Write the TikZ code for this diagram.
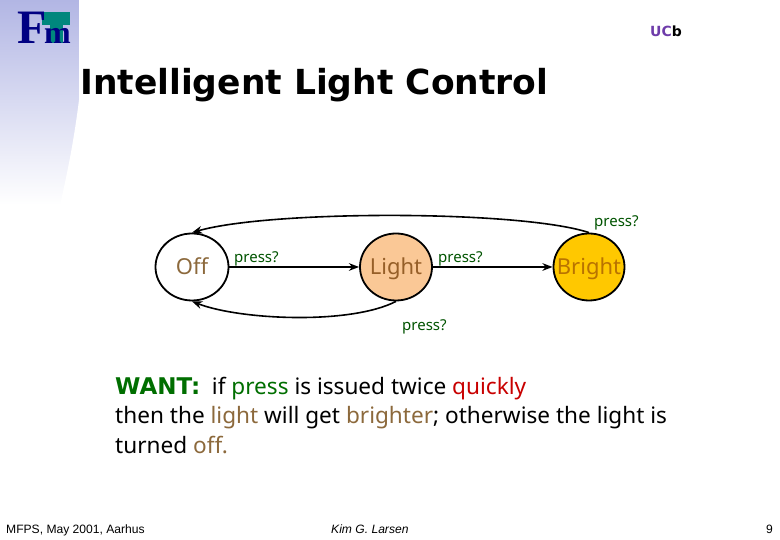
\documentclass[tikz,border=0pt]{standalone}
\usepackage{fontspec}
\usepackage{xcolor}
\setmainfont{Noto Sans}
\newfontfamily\titlefont{DejaVu Sans}
\newfontfamily\footfont{Liberation Sans}
\newfontfamily\logofont{Liberation Serif}
\usetikzlibrary{
	arrows.meta,
	positioning,
	shapes.geometric,
	}
\definecolor{presscol}{RGB}{0,110,0}
\definecolor{offcol}{RGB}{140,105,60}
\definecolor{lightcol}{RGB}{150,95,40}
\definecolor{brightcol}{RGB}{185,115,0}
\definecolor{lightfill}{RGB}{250,200,150}
\definecolor{brightfill}{RGB}{255,200,0}
\definecolor{quickcol}{RGB}{200,0,0}
\definecolor{logoblue}{RGB}{0,0,130}
\definecolor{logoteal}{RGB}{0,135,125}
\definecolor{ucbcol}{RGB}{110,60,170}
\definecolor{shadecol}{RGB}{178,182,228}
\tikzset{
	state/.style={draw, ellipse, line width=1.8pt, minimum width=73pt, minimum height=67pt, inner sep=0pt, text height=16pt, text depth=0pt, font=\fontsize{22}{24}\selectfont},
	trans/.style={-Stealth, line width=1.6pt},
	presslabel/.style={text=presscol!75!black, inner sep=0pt, font=\fontsize{15}{17}\selectfont},
	footer/.style={inner sep=0pt, font=\footfont\fontsize{12.1}{14}\selectfont},
}
\begin{document}
\begin{tikzpicture}[x=1pt, y=1pt]
	\useasboundingbox (0,0) rectangle (780,540);
	\fill[top color=shadecol, bottom color=white] (0,335) rectangle (80,540);
	\fill[white] (79,540) -- (79,440) .. controls (74,400) and (68,370) .. (60,335) -- (81,335) -- (81,540) -- cycle;

	% logo
	\fill[logoteal] (42,528) rectangle (70,515);
	\fill[logoteal] (50,515) rectangle (63,497);
	\node[inner sep=0pt, text=logoblue, font=\logofont\bfseries\fontsize{48}{48}\selectfont, anchor=base west] (fletter) at (17,496) {F};
	\node[inner sep=0pt, text=logoblue, font=\logofont\bfseries\fontsize{32}{32}\selectfont, anchor=base west] (mletter) at (44,496) {m};
	\node[inner sep=0pt, font=\titlefont\bfseries\fontsize{14}{14}\selectfont, anchor=base west] (ucb) at (650,503) {\textcolor{ucbcol}{UC}b};

	\node[inner sep=0pt, anchor=base west, font=\titlefont\bfseries\fontsize{34.5}{38}\selectfont] (title) at (80,445) {Intelligent Light Control};

	\node[state, text=offcol] (off) at (192,273) {\makebox[0pt]{Off}};
	\node[state, text=lightcol, fill=lightfill, minimum width=72pt] (light) at (396,273) {\makebox[0pt]{Light}};
	\node[state, text=brightcol, fill=brightfill, minimum width=71pt] (bright) at (589,273) {\makebox[0pt]{Bright}};

	\draw[trans] (off) -- (light);
	\draw[trans] (light) -- (bright);
	\draw[trans] (bright.north) .. controls (520,330) and (270,330) .. (off.north);
	\draw[trans] (light.south) .. controls (350,215) and (240,220) .. (off.south);

	\node[presslabel, anchor=base west] (press1) at (234,277) {press?};
	\node[presslabel, anchor=base west] (press2) at (438,277) {press?};
	\node[presslabel, anchor=base west] (press3) at (594,313) {press?};
	\node[presslabel, anchor=base west] (press4) at (402,209) {press?};

	\node[inner sep=0pt, anchor=north west, align=left, font=\fontsize{22.6}{29.5}\selectfont] (want) at (115,163) {\textcolor{presscol}{\titlefont\bfseries\fontsize{23}{29.5}\selectfont WANT:}\ \ if \textcolor{presscol}{press} is issued twice \textcolor{quickcol}{quickly}\\
	then the \textcolor{offcol}{light} will get \textcolor{offcol}{brighter}; otherwise the light is\\
	turned \textcolor{offcol}{off.}};

	\node[footer, anchor=base west] (venue) at (6,6) {MFPS, May 2001, Aarhus};
	\node[footer, anchor=base west] (author) at (331,6) {\itshape Kim G. Larsen};
	\node[footer, anchor=base east] (page) at (773,6) {9};
\end{tikzpicture}
\end{document}
